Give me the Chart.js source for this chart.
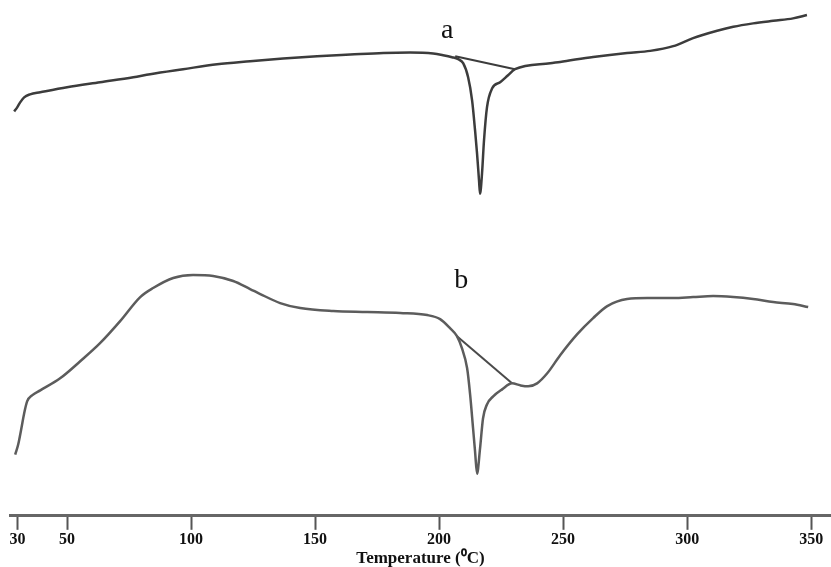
<!DOCTYPE html>
<html>
<head>
<meta charset="utf-8">
<script src="https://cdn.jsdelivr.net/npm/chart.js@4/dist/chart.umd.min.js"></script>
<style>
  html, body { margin: 0; padding: 0; background: #fff; }
  #wrap { width: 831px; height: 567px; position: relative; }
</style>
</head>
<body>
<div id="wrap"><canvas id="dscChart"></canvas></div>
<script>
// DSC thermograms a and b (heat flow in arbitrary units)
const tempA = [28.7, 29.9, 31.1, 32.7, 35.1, 39.2, 50.0, 63.3, 76.7, 83.5, 96.8, 110.5, 123.8, 137.1, 150.8, 164.2, 177.5, 188.3, 197.6, 201.6, 205.2, 207.7, 209.7, 211.7, 213.3, 214.5, 215.3, 216.1, 216.5, 217.3, 218.1, 219.3, 221.4, 224.6, 227.8, 230.6, 244.8, 248.8, 262.1, 275.8, 285.1, 294.4, 302.4, 312.1, 318.6, 326.6, 334.7, 342.7, 348.3];
const heatA = [40.3, 40.7, 41.2, 41.7, 42.0, 42.2, 42.7, 43.2, 43.7, 44.0, 44.5, 45.0, 45.3, 45.57, 45.8, 45.97, 46.13, 46.17, 46.07, 45.9, 45.7, 45.5, 45.1, 43.7, 41.4, 38.4, 36.1, 33.4, 32.1, 34.1, 37.4, 40.7, 42.6, 43.2, 43.9, 44.5, 45.1, 45.23, 45.73, 46.13, 46.33, 46.8, 47.6, 48.33, 48.73, 49.07, 49.33, 49.57, 49.9];

const tempB = [29.1, 30.3, 31.5, 32.7, 33.9, 35.9, 39.2, 47.2, 55.3, 63.3, 71.4, 79.5, 84.7, 92.8, 100.8, 108.9, 117.0, 123.8, 127.9, 135.9, 144.0, 157.3, 171.0, 184.3, 195.2, 200.4, 204.4, 207.2, 209.2, 211.3, 212.5, 213.7, 214.5, 215.3, 216.5, 217.7, 219.3, 221.8, 225.4, 229.4, 232.7, 235.9, 239.5, 243.6, 248.8, 255.7, 262.1, 267.8, 275.8, 283.9, 294.4, 302.4, 310.5, 318.6, 326.6, 334.7, 342.7, 348.8];
const heatB = [6.1, 7.1, 8.6, 10.2, 11.4, 12.0, 12.5, 13.7, 15.4, 17.2, 19.4, 21.8, 22.7, 23.7, 24.0, 23.9, 23.4, 22.6, 22.1, 21.2, 20.7, 20.4, 20.3, 20.2, 20.0, 19.6, 18.7, 17.9, 16.7, 14.7, 12.1, 8.7, 6.4, 4.2, 6.7, 9.7, 11.1, 11.9, 12.6, 13.2, 13.0, 12.9, 13.2, 14.2, 16.0, 18.1, 19.7, 20.9, 21.6, 21.7, 21.7, 21.8, 21.9, 21.8, 21.6, 21.3, 21.1, 20.8];

// onset-endset baselines under the melting peaks
const baseTempA = [206.5, 230.6];
const baseHeatA = [45.8, 44.5];
const baseTempB = [207.2, 229.4];
const baseHeatB = [17.9, 13.2];

const curveLabels = ['a', 'b'];
const labelTemps = [203.3, 208.9];
const labelHeat = [47.6, 22.7];

const xTicks = [30, 50, 100, 150, 200, 250, 300, 350];

const serif = '"Liberation Serif", "Times New Roman", serif';

function pts(xs, ys) {
    return xs.map((x, i) => ({ x: x, y: ys[i] }));
}

// draws the curve letters at data coordinates
const letterPlugin = {
    id: 'letters',
    afterDatasetsDraw(c) {
        const ctx = c.ctx;
        const xs = c.scales.x, ys = c.scales.y;
        ctx.save();
        ctx.font = '28px ' + serif;
        ctx.fillStyle = '#111';
        ctx.textAlign = 'center';
        ctx.textBaseline = 'alphabetic';
        curveLabels.forEach((t, i) => {
            ctx.fillText(t, xs.getPixelForValue(labelTemps[i]), ys.getPixelForValue(labelHeat[i]));
        });
        ctx.restore();
    }
};

const lineStyle = (color, w) => ({
    borderColor: color,
    borderWidth: w,
    pointRadius: 0,
    fill: false
});

new Chart(document.getElementById('dscChart').getContext('2d'), {
    type: 'line',
    data: {
        datasets: [
            Object.assign({ label: 'a', data: pts(tempA, heatA), cubicInterpolationMode: 'monotone' }, lineStyle('#3c3c3c', 2.5)),
            Object.assign({ label: 'a baseline', data: pts(baseTempA, baseHeatA) }, lineStyle('#3c3c3c', 2)),
            Object.assign({ label: 'b', data: pts(tempB, heatB), cubicInterpolationMode: 'monotone' }, lineStyle('#5c5c5c', 2.5)),
            Object.assign({ label: 'b baseline', data: pts(baseTempB, baseHeatB) }, lineStyle('#4a4a4a', 2))
        ]
    },
    options: {
        responsive: true,
        maintainAspectRatio: false,
        animation: false,
        layout: { padding: { left: 10, right: 0, top: 0, bottom: 0 } },
        plugins: {
            legend: { display: false },
            tooltip: { enabled: false }
        },
        scales: {
            x: {
                type: 'linear',
                min: 27,
                max: 358,
                afterBuildTicks: axis => { axis.ticks = xTicks.map(v => ({ value: v })); },
                grid: {
                    drawOnChartArea: false,
                    drawTicks: true,
                    tickLength: 14,
                    tickWidth: 2,
                    tickColor: '#555'
                },
                border: { display: true, color: '#666', width: 3 },
                ticks: {
                    autoSkip: false,
                    maxRotation: 0,
                    padding: 6.5,
                    color: '#111',
                    font: { family: serif, size: 16, weight: 'bold', lineHeight: 0.45 }
                },
                title: {
                    display: true,
                    text: 'Temperature (⁰C)',
                    color: '#111',
                    padding: { top: 0, bottom: 0 },
                    font: { family: serif, size: 17, weight: 'bold', lineHeight: 1 }
                }
            },
            y: {
                display: false,
                min: 0,
                max: 51.4
            }
        }
    },
    plugins: [letterPlugin]
});
</script>
</body>
</html>
